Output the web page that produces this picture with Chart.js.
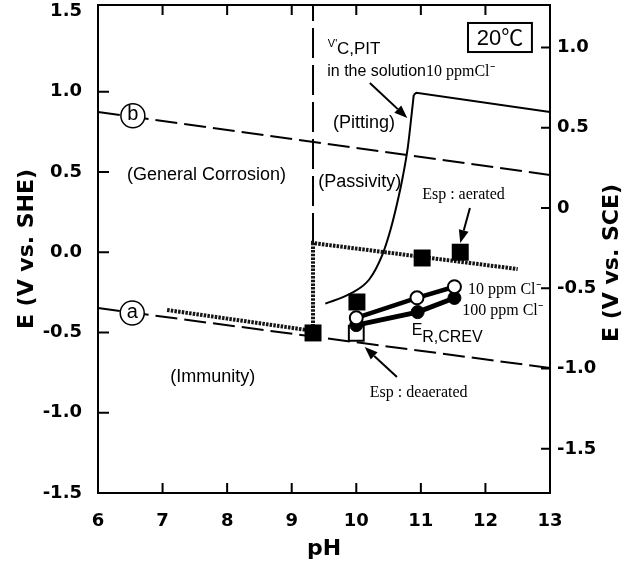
<!DOCTYPE html>
<html>
<head>
<meta charset="utf-8">
<title>Pourbaix-type diagram, 20°C</title>
<script src="https://cdn.jsdelivr.net/npm/chart.js@4.4.0/dist/chart.umd.min.js"></script>
<style>
  html, body { margin: 0; padding: 0; background: #fff; }
  #wrap { width: 628px; height: 564px; }
</style>
</head>
<body>
<div id="wrap"><canvas id="pourbaix" width="628" height="564"></canvas></div>
<script>
// --- Axis ticks ---
const phTicks = [6, 7, 8, 9, 10, 11, 12, 13];
const sheTicks = [-1.5, -1.0, -0.5, 0.0, 0.5, 1.0, 1.5];
const sceTicks = [-1.5, -1.0, -0.5, 0, 0.5, 1.0];
const SHE_MIN = -1.5, SHE_MAX = 1.54;
const SCE_OFFSET = 0.275; // right axis reads E(SHE) - offset

// --- Boundary lines (b) upper and (a) lower ---
const lineB_pH = [6, 13];
const lineB_E = [0.873, 0.481];
const lineA_pH = [6, 13];
const lineA_E = [-0.348, -0.721];

// vertical general corrosion / passivity boundary
const passBound_pH = [9.33, 9.33];
const passBound_E = [0.057, 1.54];

// Esp trend line (hatched)
const espLine_pH = [7.07, 9.33, 9.33, 12.5];
const espLine_E = [-0.36, -0.49, 0.057, -0.105];

// V'C,PIT curve and its plateau
const vpit_pH = [9.52, 9.9, 10.2, 10.4, 10.53, 10.63, 10.72, 10.8, 10.86, 10.89];
const vpit_E = [-0.32, -0.26, -0.17, -0.02, 0.14, 0.3, 0.47, 0.66, 0.87, 0.98];
const vpitTop_pH = [10.89, 10.93, 13];
const vpitTop_E = [0.98, 0.993, 0.873];

// Esp measured points
const espAer_pH = [9.33, 10.01, 11.02, 11.61];
const espAer_E = [-0.503, -0.31, -0.036, 0.0];
const espDeaer_pH = [10.0];
const espDeaer_E = [-0.505];

// ER,CREV
const crev10_pH = [10.0, 10.94, 11.52];
const crev10_E = [-0.409, -0.284, -0.215];
const crev100_pH = [10.0, 10.95, 11.52];
const crev100_E = [-0.454, -0.373, -0.285];

// circled tags on the boundary lines
const tagText = ['a', 'b'];
const tag_pH = [6.53, 6.54];
const tag_E = [-0.379, 0.85];

const pts = (xs, ys) => xs.map((x, i) => ({ x: x, y: ys[i] }));

const SANS = '"Liberation Sans", Arial, sans-serif';
const SERIF = '"Liberation Serif", "Times New Roman", serif';
const tickFont = { family: '"DejaVu Sans", sans-serif', size: 18, weight: 'bold' };
const titleFont = { family: '"DejaVu Sans", sans-serif', size: 22, weight: 'bold' };
const DASH = [22, 7];

// --- Text notes placed in data units (pH, E vs SHE) ---
const notes = [
  { t: '(General Corrosion)', x: 6.45, y: 0.481, f: '18px ' + SANS },
  { t: '(Passivity)', x: 9.41, y: 0.437, f: '18px ' + SANS },
  { t: '(Pitting)', x: 9.64, y: 0.805, f: '18px ' + SANS },
  { t: '(Immunity)', x: 7.12, y: -0.778, f: '18px ' + SANS },
  { t: "V'", x: 9.56, y: 1.297, f: '11px ' + SANS },
  { t: 'C,PIT', x: 9.70, y: 1.266, f: '17px ' + SANS },
  { t: 'Esp : aerated', x: 11.02, y: 0.356, f: '16px ' + SERIF },
  { t: '10 ppm Cl\u207B', x: 11.73, y: -0.235, f: '16px ' + SERIF },
  { t: '100 ppm Cl\u207B', x: 11.64, y: -0.366, f: '16px ' + SERIF },
  { t: 'E', x: 10.86, y: -0.491, f: '16px ' + SANS },
  { t: 'R,CREV', x: 11.02, y: -0.535, f: '16px ' + SANS },
  { t: 'Esp : deaerated', x: 10.21, y: -0.877, f: '16px ' + SERIF }
];
const arrows = [
  { from: [10.21, 1.054], to: [10.79, 0.836] },
  { from: [11.76, 0.275], to: [11.61, 0.057] },
  { from: [10.63, -0.778], to: [10.13, -0.591] }
];

const decorPlugin = {
  id: 'decor',
  afterDraw(chart) {
    const { ctx, chartArea: a } = chart;
    const xs = chart.scales.x, ys = chart.scales.y, y2 = chart.scales.y2;
    const X = v => xs.getPixelForValue(v);
    const Y = v => ys.getPixelForValue(v);
    ctx.save();
    ctx.strokeStyle = '#000';
    ctx.fillStyle = '#000';

    // frame
    ctx.lineWidth = 2;
    ctx.strokeRect(a.left, a.top, a.right - a.left, a.bottom - a.top);

    // inward tick marks
    ctx.beginPath();
    phTicks.forEach(v => {
      const px = X(v);
      if (px < a.left + 5 || px > a.right - 5) return;
      ctx.moveTo(px, a.bottom); ctx.lineTo(px, a.bottom - 10);
      ctx.moveTo(px, a.top); ctx.lineTo(px, a.top + 10);
    });
    sheTicks.forEach(v => {
      const py = Y(v);
      if (py < a.top + 8 || py > a.bottom - 8) return;
      ctx.moveTo(a.left, py); ctx.lineTo(a.left + 11, py);
    });
    sceTicks.forEach(v => {
      const py = y2.getPixelForValue(v);
      if (py < a.top + 8 || py > a.bottom - 8) return;
      ctx.moveTo(a.right, py); ctx.lineTo(a.right - 9, py);
    });
    ctx.stroke();

    // circled a / b
    ctx.font = '20px ' + SANS;
    ctx.textAlign = 'center';
    ctx.textBaseline = 'middle';
    tagText.forEach((t, i) => ctx.fillText(t, X(tag_pH[i]), Y(tag_E[i]) - 1));

    // notes
    ctx.textAlign = 'left';
    notes.forEach(n => {
      ctx.font = n.f;
      ctx.fillText(n.t, X(n.x), Y(n.y));
    });

    // "in the solution" + serif "10 ppmCl-"
    let sx = X(9.55), sy = Y(1.123);
    ctx.font = '16px ' + SANS;
    ctx.fillText('in the solution', sx, sy);
    sx += ctx.measureText('in the solution').width;
    ctx.font = '16px ' + SERIF;
    ctx.fillText('10 ppmCl\u207B', sx, sy);

    // 20℃ box
    const bx1 = X(11.73), bx2 = X(12.72), by1 = Y(1.428), by2 = Y(1.247);
    ctx.lineWidth = 2;
    ctx.strokeRect(bx1, by1, bx2 - bx1, by2 - by1);
    ctx.font = '22px ' + SANS + ', "Noto Sans CJK JP"';
    ctx.textAlign = 'center';
    ctx.fillText('20\u2103', (bx1 + bx2) / 2, (by1 + by2) / 2 + 1);

    // arrows
    ctx.lineWidth = 2;
    arrows.forEach(ar => {
      const x1 = X(ar.from[0]), y1 = Y(ar.from[1]);
      const x2 = X(ar.to[0]), y2p = Y(ar.to[1]);
      const ang = Math.atan2(y2p - y1, x2 - x1);
      const hl = 13, hw = 5;
      const bxp = x2 - hl * Math.cos(ang), byp = y2p - hl * Math.sin(ang);
      ctx.beginPath();
      ctx.moveTo(x1, y1); ctx.lineTo(bxp, byp);
      ctx.stroke();
      ctx.beginPath();
      ctx.moveTo(x2, y2p);
      ctx.lineTo(bxp + hw * Math.sin(ang), byp - hw * Math.cos(ang));
      ctx.lineTo(bxp - hw * Math.sin(ang), byp + hw * Math.cos(ang));
      ctx.closePath();
      ctx.fill();
    });

    // right axis title, reading upward
    ctx.font = 'bold 22px "DejaVu Sans", sans-serif';
    ctx.textAlign = 'center';
    ctx.translate(612, (a.top + a.bottom) / 2 + 14);
    ctx.rotate(-Math.PI / 2);
    ctx.fillText('E (V vs. SCE)', 0, 0);
    ctx.restore();
  }
};

const lineDs = (data, extra) => Object.assign({
  data: data, showLine: true, pointRadius: 0, borderColor: '#000',
  borderWidth: 2, fill: false, tension: 0
}, extra);

new Chart(document.getElementById('pourbaix'), {
  type: 'scatter',
  data: {
    datasets: [
      { data: pts(tag_pH, tag_E), pointStyle: 'circle', pointRadius: 12,
        pointBackgroundColor: '#fff', pointBorderColor: '#000', pointBorderWidth: 1.5 },
      { data: pts(espAer_pH, espAer_E), pointStyle: 'rect', pointRadius: 12,
        pointBackgroundColor: '#000', pointBorderColor: '#000', pointBorderWidth: 0 },
      lineDs(pts(crev10_pH, crev10_E), { borderWidth: 4.5, pointRadius: 6.5, pointStyle: 'circle',
        pointBackgroundColor: '#fff', pointBorderColor: '#000', pointBorderWidth: 2 }),
      lineDs(pts(crev100_pH, crev100_E), { borderWidth: 5, pointRadius: 6.5, pointStyle: 'circle',
        pointBackgroundColor: '#000', pointBorderColor: '#000', pointBorderWidth: 1 }),
      { data: pts(espDeaer_pH, espDeaer_E), pointStyle: 'rect', pointRadius: 10.5,
        pointBackgroundColor: '#fff', pointBorderColor: '#000', pointBorderWidth: 2 },
      lineDs(pts(espLine_pH, espLine_E), { borderColor: '#151515', borderWidth: 4, borderDash: [2.5, 1.2] }),
      lineDs(pts(vpit_pH, vpit_E), { cubicInterpolationMode: 'monotone' }),
      lineDs(pts(vpitTop_pH, vpitTop_E)),
      lineDs(pts(passBound_pH, passBound_E), { borderDash: [30, 7] }),
      lineDs(pts(lineA_pH, lineA_E), { borderDash: DASH }),
      lineDs(pts(lineB_pH, lineB_E), { borderDash: DASH })
    ]
  },
  options: {
    responsive: false,
    devicePixelRatio: 1,
    animation: false,
    events: [],
    layout: { autoPadding: false, padding: { top: 5, left: 0, right: 0, bottom: 0 } },
    plugins: { legend: { display: false }, tooltip: { enabled: false } },
    scales: {
      x: {
        type: 'linear', position: 'bottom', min: 6, max: 13,
        afterBuildTicks: s => { s.ticks = phTicks.map(v => ({ value: v })); },
        afterFit: s => { s.height = 71; s.paddingLeft = 0; s.paddingRight = 0; },
        grid: { display: false, drawTicks: false },
        border: { display: false },
        ticks: { padding: 18, font: tickFont, color: '#000', maxRotation: 0, autoSkip: false,
                 callback: v => String(v) },
        title: { display: true, text: 'pH', font: titleFont, color: '#000', padding: { top: 0, bottom: 2 } }
      },
      y: {
        type: 'linear', position: 'left', min: SHE_MIN, max: SHE_MAX,
        afterBuildTicks: s => { s.ticks = sheTicks.map(v => ({ value: v })); },
        afterFit: s => { s.width = 98; s.paddingTop = 0; s.paddingBottom = 0; },
        grid: { display: false, drawTicks: false },
        border: { display: false },
        ticks: { padding: 16, font: tickFont, color: '#000', autoSkip: false,
                 callback: v => v.toFixed(1) },
        title: { display: true, text: 'E (V vs. SHE)', font: titleFont, color: '#000', padding: { top: 14, bottom: 0 } }
      },
      y2: {
        type: 'linear', position: 'right', min: SHE_MIN - SCE_OFFSET, max: SHE_MAX - SCE_OFFSET,
        afterBuildTicks: s => { s.ticks = sceTicks.map(v => ({ value: v })); },
        afterFit: s => { s.width = 78; s.paddingTop = 0; s.paddingBottom = 0; },
        grid: { display: false, drawTicks: false },
        border: { display: false },
        ticks: { padding: 7, font: tickFont, color: '#000', autoSkip: false,
                 callback: v => (v === 0 ? '0' : v.toFixed(1)) }
      }
    }
  },
  plugins: [decorPlugin]
});
</script>
</body>
</html>
